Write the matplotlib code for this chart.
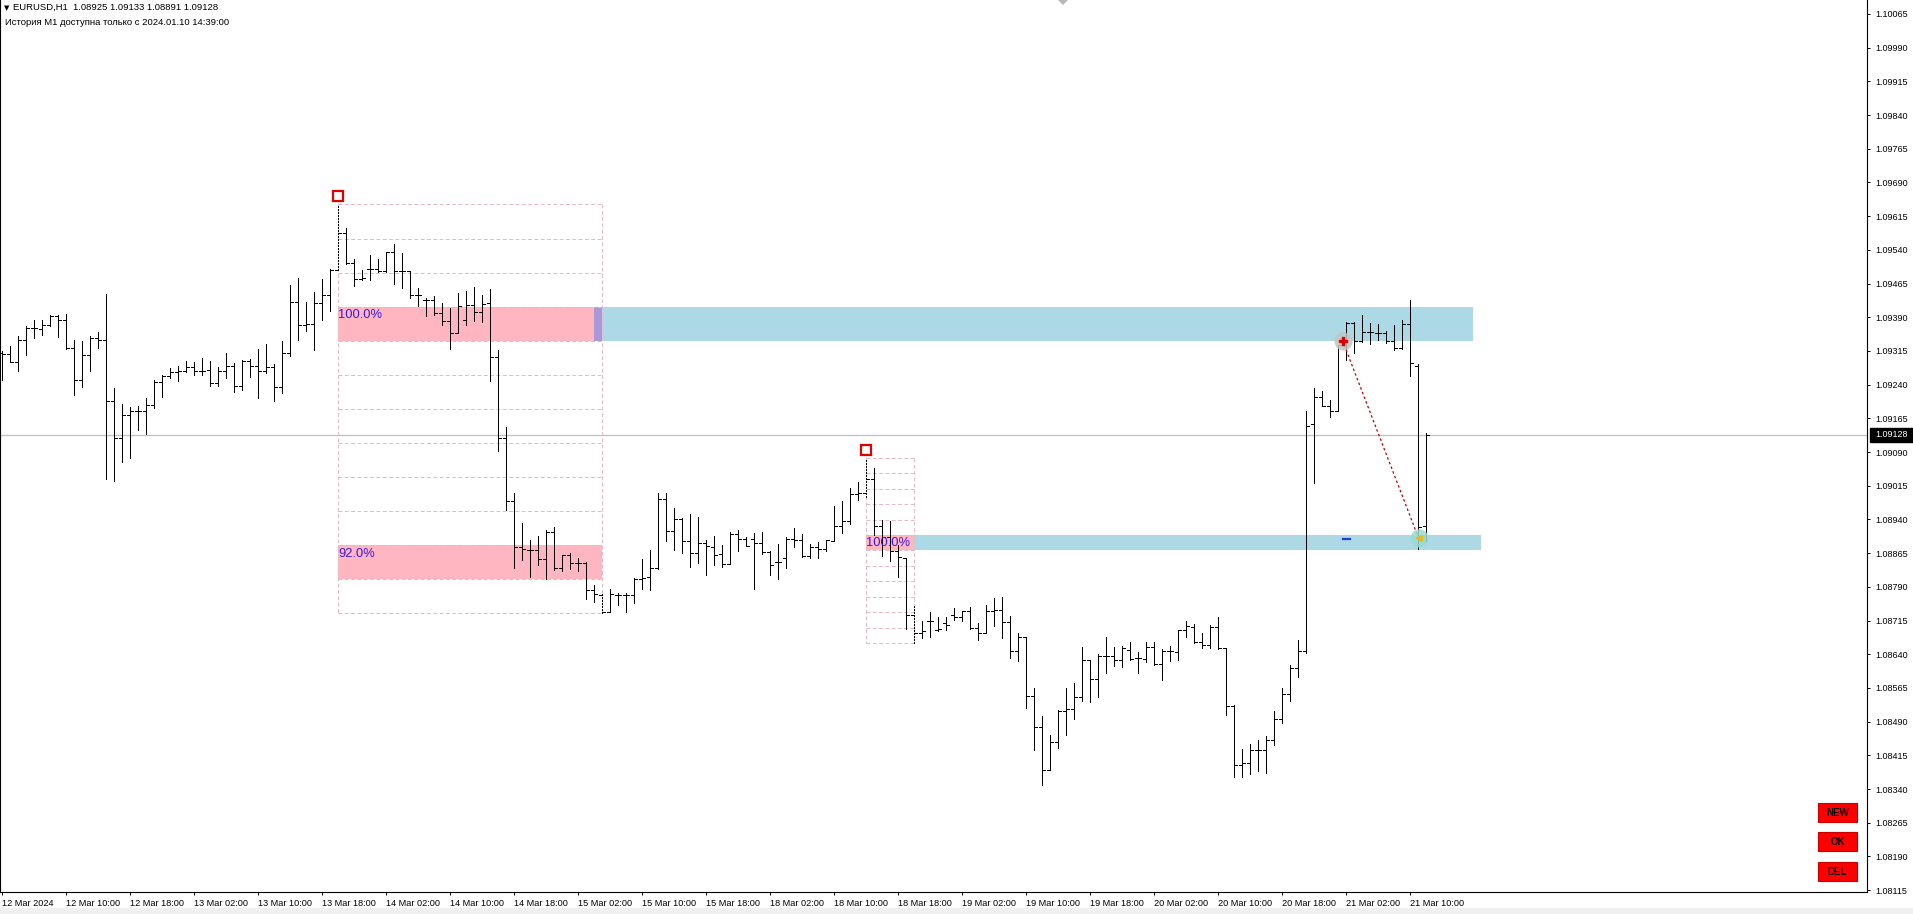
import matplotlib
matplotlib.use('Agg')
import matplotlib.pyplot as plt
from matplotlib import font_manager as fm
from matplotlib.patches import Rectangle, Polygon
from matplotlib.transforms import blended_transform_factory
import numpy as np

names = {f.name for f in fm.fontManager.ttflist}
UI = 'Liberation Sans' if 'Liberation Sans' in names else 'DejaVu Sans'
plt.rcParams['font.family'] = [UI, 'DejaVu Sans']

# ---------------- data (EURUSD H1, bars from 12 Mar 02:00) ----------------
open_ = [1.09311,1.09309,1.09290,1.09340,1.09366,1.09364,1.09372,1.09392,1.09385,1.09322,
         1.09251,1.09307,1.09344,1.09340,1.09204,1.09121,1.09173,1.09181,1.09181,1.09195,
         1.09245,1.09260,1.09268,1.09271,1.09279,1.09271,1.09272,1.09244,1.09270,1.09282,
         1.09238,1.09292,1.09282,1.09270,1.09280,1.09235,1.09311,1.09425,1.09372,1.09375,
         1.09422,1.09439,1.09495,1.09577,1.09511,1.09476,1.09498,1.09498,1.09492,1.09535,
         1.09493,1.09493,1.09440,1.09428,1.09428,1.09400,1.09381,1.09355,1.09385,1.09418,
         1.09401,1.09422,1.09302,1.09121,1.08980,1.08878,1.08872,1.08872,1.08853,1.08913,
         1.08832,1.08860,1.08844,1.08844,1.08782,1.08772,1.08735,1.08772,1.08772,1.08772,
         1.08808,1.08812,1.08832,1.08985,1.08915,1.08941,1.08891,1.08865,1.08887,1.08879,
         1.08863,1.08841,1.08907,1.08897,1.08896,1.08887,1.08867,1.08845,1.08854,1.08896,
         1.08895,1.08858,1.08878,1.08874,1.08893,1.08925,1.08936,1.08997,1.08999,1.09029,
         1.08925,1.08902,1.08869,1.08854,1.08728,1.08688,1.08713,1.08694,1.08709,1.08728,
         1.08723,1.08737,1.08698,1.08687,1.08737,1.08739,1.08711,1.08647,1.08678,1.08547,
         1.08479,1.08382,1.08444,1.08514,1.08518,1.08544,1.08627,1.08586,1.08637,1.08636,
         1.08627,1.08649,1.08631,1.08629,1.08657,1.08618,1.08647,1.08646,1.08694,1.08701,
         1.08668,1.08661,1.08701,1.08653,1.08525,1.08393,1.08399,1.08427,1.08427,1.08449,
         1.08497,1.08551,1.08609,1.08647,1.09152,1.09213,1.09193,1.09182,1.09339,1.09377,
         1.09337,1.09357,1.09355,1.09354,1.09337,1.09322,1.09376,1.09282,1.08925]
high = [1.09314,1.09326,1.09348,1.09370,1.09385,1.09385,1.09396,1.09396,1.09398,1.09339,
        1.09338,1.09348,1.09358,1.09441,1.09233,1.09198,1.09190,1.09192,1.09210,1.09251,
        1.09262,1.09277,1.09282,1.09292,1.09290,1.09300,1.09293,1.09280,1.09311,1.09288,
        1.09294,1.09296,1.09320,1.09331,1.09285,1.09338,1.09461,1.09478,1.09424,1.09447,
        1.09476,1.09498,1.09641,1.09589,1.09520,1.09496,1.09528,1.09519,1.09535,1.09552,
        1.09532,1.09493,1.09456,1.09433,1.09437,1.09422,1.09411,1.09443,1.09448,1.09458,
        1.09439,1.09453,1.09317,1.09146,1.09000,1.08932,1.08895,1.08904,1.08916,1.08924,
        1.08861,1.08865,1.08855,1.08846,1.08794,1.08777,1.08785,1.08776,1.08777,1.08809,
        1.08852,1.08872,1.08999,1.08999,1.08965,1.08943,1.08952,1.08945,1.08895,1.08904,
        1.08884,1.08913,1.08917,1.08902,1.08910,1.08913,1.08869,1.08886,1.08902,1.08921,
        1.08908,1.08886,1.08889,1.08895,1.08969,1.08980,1.09010,1.09023,1.09073,1.09055,
        1.08939,1.08936,1.08884,1.08854,1.08750,1.08713,1.08735,1.08723,1.08723,1.08743,
        1.08737,1.08746,1.08709,1.08750,1.08765,1.08767,1.08726,1.08687,1.08679,1.08564,
        1.08503,1.08460,1.08517,1.08564,1.08575,1.08657,1.08627,1.08640,1.08678,1.08657,
        1.08658,1.08668,1.08646,1.08668,1.08668,1.08651,1.08658,1.08695,1.08713,1.08707,
        1.08687,1.08705,1.08722,1.08655,1.08527,1.08430,1.08440,1.08450,1.08458,1.08514,
        1.08566,1.08616,1.08672,1.09181,1.09233,1.09227,1.09205,1.09329,1.09379,1.09379,
        1.09394,1.09377,1.09376,1.09359,1.09372,1.09385,1.09429,1.09285,1.09133]
low = [1.09251,1.09290,1.09270,1.09305,1.09344,1.09351,1.09370,1.09346,1.09320,1.09216,
       1.09235,1.09270,1.09322,1.09030,1.09025,1.09067,1.09076,1.09138,1.09130,1.09187,
       1.09212,1.09255,1.09249,1.09268,1.09262,1.09261,1.09236,1.09236,1.09254,1.09224,
       1.09229,1.09256,1.09210,1.09266,1.09203,1.09221,1.09303,1.09339,1.09359,1.09317,
       1.09384,1.09404,1.09495,1.09508,1.09459,1.09473,1.09473,1.09490,1.09490,1.09463,
       1.09454,1.09432,1.09415,1.09392,1.09396,1.09372,1.09320,1.09354,1.09372,1.09381,
       1.09379,1.09248,1.09092,1.08962,1.08832,1.08849,1.08813,1.08839,1.08808,1.08828,
       1.08826,1.08829,1.08826,1.08762,1.08757,1.08731,1.08733,1.08750,1.08735,1.08755,
       1.08785,1.08782,1.08829,1.08893,1.08871,1.08866,1.08835,1.08844,1.08816,1.08839,
       1.08835,1.08841,1.08870,1.08880,1.08785,1.08864,1.08817,1.08807,1.08832,1.08879,
       1.08856,1.08854,1.08854,1.08869,1.08891,1.08911,1.08931,1.08984,1.08991,1.08906,
       1.08858,1.08847,1.08813,1.08696,1.08665,1.08676,1.08678,1.08691,1.08694,1.08717,
       1.08715,1.08696,1.08672,1.08687,1.08702,1.08676,1.08631,1.08624,1.08520,1.08427,
       1.08349,1.08382,1.08431,1.08460,1.08497,1.08537,1.08534,1.08545,1.08599,1.08614,
       1.08612,1.08627,1.08599,1.08623,1.08616,1.08583,1.08625,1.08627,1.08679,1.08664,
       1.08655,1.08653,1.08651,1.08505,1.08366,1.08366,1.08373,1.08381,1.08375,1.08438,
       1.08487,1.08537,1.08589,1.08642,1.09021,1.09192,1.09168,1.09181,1.09294,1.09311,
       1.09334,1.09331,1.09339,1.09333,1.09318,1.09320,1.09259,1.08874,1.08891]
close = [1.09309,1.09291,1.09340,1.09366,1.09366,1.09373,1.09392,1.09384,1.09321,1.09251,
         1.09307,1.09344,1.09339,1.09204,1.09121,1.09173,1.09181,1.09181,1.09195,1.09245,
         1.09260,1.09268,1.09271,1.09279,1.09271,1.09271,1.09244,1.09270,1.09282,1.09238,
         1.09292,1.09282,1.09270,1.09280,1.09235,1.09311,1.09425,1.09372,1.09375,1.09422,
         1.09439,1.09495,1.09577,1.09511,1.09476,1.09477,1.09498,1.09492,1.09535,1.09493,
         1.09493,1.09440,1.09440,1.09428,1.09400,1.09381,1.09355,1.09416,1.09418,1.09401,
         1.09419,1.09302,1.09121,1.08980,1.08878,1.08875,1.08871,1.08853,1.08913,1.08832,
         1.08860,1.08844,1.08844,1.08782,1.08774,1.08735,1.08774,1.08772,1.08772,1.08808,
         1.08809,1.08832,1.08985,1.08915,1.08941,1.08891,1.08865,1.08887,1.08880,1.08861,
         1.08841,1.08907,1.08897,1.08881,1.08887,1.08867,1.08838,1.08845,1.08896,1.08895,
         1.08858,1.08878,1.08874,1.08895,1.08925,1.08936,1.08997,1.08999,1.09029,1.08925,
         1.08902,1.08869,1.08856,1.08728,1.08688,1.08691,1.08713,1.08696,1.08705,1.08724,
         1.08737,1.08698,1.08687,1.08737,1.08739,1.08711,1.08647,1.08678,1.08547,1.08479,
         1.08382,1.08444,1.08514,1.08518,1.08544,1.08627,1.08586,1.08637,1.08637,1.08627,
         1.08653,1.08629,1.08631,1.08657,1.08618,1.08647,1.08647,1.08694,1.08703,1.08668,
         1.08661,1.08701,1.08653,1.08525,1.08393,1.08399,1.08427,1.08427,1.08449,1.08497,
         1.08551,1.08609,1.08647,1.09149,1.09213,1.09193,1.09181,1.09328,1.09377,1.09337,
         1.09357,1.09357,1.09354,1.09337,1.09322,1.09376,1.09288,1.08924,1.09128]

x_tick_bars = [0, 8, 16, 24, 32, 40, 48, 56, 64, 72, 80, 88, 96, 104, 112, 120,
               128, 136, 144, 152, 160, 168, 176]
x_tick_labels = ['12 Mar 2024', '12 Mar 10:00', '12 Mar 18:00', '13 Mar 02:00', '13 Mar 10:00',
                 '13 Mar 18:00', '14 Mar 02:00', '14 Mar 10:00', '14 Mar 18:00', '15 Mar 02:00',
                 '15 Mar 10:00', '15 Mar 18:00', '18 Mar 02:00', '18 Mar 10:00', '18 Mar 18:00',
                 '19 Mar 02:00', '19 Mar 10:00', '19 Mar 18:00', '20 Mar 02:00', '20 Mar 10:00',
                 '20 Mar 18:00', '21 Mar 02:00', '21 Mar 10:00']
y_ticks = [1.10065, 1.09990, 1.09915, 1.09840, 1.09765, 1.09690, 1.09615, 1.09540, 1.09465,
           1.09390, 1.09315, 1.09240, 1.09165, 1.09090, 1.09015, 1.08940, 1.08865, 1.08790,
           1.08715, 1.08640, 1.08565, 1.08490, 1.08415, 1.08340, 1.08265, 1.08190, 1.08115]

# Fibonacci boxes: anchor bars, anchor prices, highlighted division bands and labels
fib_bars = [(42, 75), (108, 114)]
fib_prices = [(1.09641, 1.08731), (1.09077, 1.08665)]
fib_bands = [[(3, '100.0%'), (10, '92.0%')], [(5, '100.0%')]]
fib_divisions = 12
zone_end_bar = [183.9, 184.9]
marker_prices = [1.09660, 1.09095]
trade_bars = [167.6, 177.1]
trade_prices = [1.09338, 1.08899]
current_price = close[-1]

# ---------------- figure ----------------
W, H = 1913, 914
fig = plt.figure(figsize=(W / 100, H / 100), dpi=100)
fig.patch.set_facecolor('white')
ax = fig.add_axes([0, 22 / H, 1867 / W, 892 / H])
ax.set_xlim(-0.21, 233.16)
ax.set_ylim(1.08111, 1.10096)

x = np.arange(len(open_))
o = np.array(open_); hi = np.array(high); lo = np.array(low); c = np.array(close)
pivot = {42, 75, 108, 114}
solid = np.array([i for i in x if i not in pivot])
piv = np.array(sorted(pivot))

PINK = '#FFB6C1'
BLUE = '#ADD8E6'
DASH = '#E8B9C3'
TXT = '#3A1AD8'
LW = 0.7

# Fib boxes + zones
for k, ((b0, b1), (p0, p1)) in enumerate(zip(fib_bars, fib_prices)):
    d = (p0 - p1) / fib_divisions
    for idx, lab in fib_bands[k]:
        top = p0 - idx * d
        bot = top - d
        ax.add_patch(Rectangle((b0, bot), b1 - b0, d, facecolor=PINK, edgecolor='none', zorder=1))
        ytxt = top - min(0.00019, d / 2)
        ax.text(b0 + 0.05, ytxt, lab, color=TXT, fontsize=9.3, ha='left', va='center', zorder=6)
        if idx == fib_bands[k][0][0]:
            ax.add_patch(Rectangle((b1, bot), zone_end_bar[k] - b1, d, facecolor=BLUE,
                                   edgecolor='none', zorder=1))
    for j in range(fib_divisions + 1):
        lev = p0 - j * d
        ax.plot([b0, b1], [lev, lev], color=DASH, lw=LW, ls=(0, (4, 2.5)), zorder=2)
    ax.plot([b0, b0], [p0, p1], color=DASH, lw=LW, ls=(0, (4, 2.5)), zorder=2)
    ax.plot([b1, b1], [p0, p1], color=DASH, lw=LW, ls=(0, (4, 2.5)), zorder=2)

# purple marker at right end of first 100% band
b0, b1 = fib_bars[0]
p0, p1 = fib_prices[0]
d0 = (p0 - p1) / fib_divisions
ax.add_patch(Rectangle((b1 - 1, p0 - 4 * d0), 1, d0, facecolor='#AB98D8', edgecolor='none', zorder=1.5))

# current price line
ax.axhline(current_price, color='#C0C0C0', lw=0.9, zorder=1.6)

# OHLC bars (1 px lines)
ax.vlines(x[solid], lo[solid], hi[solid], colors='black', lw=LW, antialiased=False, zorder=4)
ax.vlines(x[piv], lo[piv], hi[piv], colors='black', lw=LW, linestyles=(0, (2, 2)),
          antialiased=False, zorder=4)
ax.hlines(o, x - 0.375, x, colors='black', lw=LW, antialiased=False, zorder=4)
ax.hlines(c, x, x + 0.375, colors='black', lw=LW, antialiased=False, zorder=4)

# red square markers at fib anchors
ax.plot([fib_bars[0][0], fib_bars[1][0]], marker_prices, ls='none', marker='s', ms=7.5,
        mfc='white', mec='#E00000', mew=1.6, zorder=7)

# trade line and markers
ax.plot(trade_bars, trade_prices, color='#C00000', lw=0.9, ls=(0, (2, 2)), zorder=5)
ax.plot(trade_bars[0], trade_prices[0], 'o', ms=13, mfc='#C4C4C4', mec='none', alpha=0.85, zorder=5.5)
ax.plot(trade_bars[1], trade_prices[1], 'o', ms=13, mfc='#9ADCD2', mec='none', alpha=0.85, zorder=5.5)
ax.plot(trade_bars[0], trade_prices[0], marker='P', ms=5.5, color='#E00000', zorder=6)
ax.plot(trade_bars[1], trade_prices[1], marker='<', ms=5, color='#E8B820', zorder=6)
ax.plot([trade_bars[0], trade_bars[0] + 0.9], [trade_prices[1] - 0.00002] * 2,
        color='#1F3FD0', lw=1.6, zorder=6)

# axes styling
ax.spines['top'].set_visible(False)
for s in ['right', 'bottom', 'left']:
    ax.spines[s].set_color('black')
    ax.spines[s].set_linewidth(0.8)
ax.yaxis.tick_right()
ax.set_yticks(y_ticks)
ax.set_yticklabels([f'{v:.5f}' for v in y_ticks])
ax.tick_params(axis='y', direction='out', length=2.5, width=0.7, pad=3.6, labelsize=6.5,
               colors='black')
ax.set_xticks(x_tick_bars)
ax.set_xticklabels(x_tick_labels)
ax.tick_params(axis='x', direction='out', length=2.5, width=0.7, pad=2.5, labelsize=6.6)
for lbl in ax.get_xticklabels():
    lbl.set_ha('left')

# current price label box on axis
bt = blended_transform_factory(ax.transAxes, ax.transData)
ax.add_patch(Rectangle((1.0015, current_price - 0.000155), 0.0245, 0.00031, transform=bt,
                       facecolor='black', edgecolor='black', clip_on=False, zorder=8))
ax.text(1 + 8 / 1867, current_price, f'{current_price:.5f}', transform=bt, color='white',
        fontsize=6.5, ha='left', va='center', zorder=9, clip_on=False)

# header text
fig.text(4 / W, 1 - 8 / H, '▼', fontsize=5, family='DejaVu Sans', va='center', ha='left')
fig.text(13 / W, 1 - 7.5 / H,
         f'EURUSD,H1  {open_[-1]:.5f} {high[-1]:.5f} {low[-1]:.5f} {close[-1]:.5f}',
         fontsize=6.8, va='center', ha='left')
fig.text(5 / W, 1 - 22.5 / H, 'История M1 доступна только с 2024.01.10 14:39:00',
         fontsize=6.8, va='center', ha='left')

# chart shift marker
fig.patches.append(Polygon([(1058 / W, 1), (1068 / W, 1), (1063 / W, 1 - 5 / H)], closed=True,
                           transform=fig.transFigure, facecolor='#B8B8B8', edgecolor='none'))
# bottom status strip
fig.patches.append(Rectangle((0, 0), 1, 6 / H, transform=fig.transFigure,
                             facecolor='#F0F0F0', edgecolor='none'))

# buttons
for lab, ytop in [('NEW', 803), ('OK', 832), ('DEL', 862)]:
    fig.patches.append(Rectangle((1818 / W, 1 - (ytop + 19) / H), 39 / W, 19 / H,
                                 transform=fig.transFigure, facecolor='#FF0000',
                                 edgecolor='#C80000', lw=0.8))
    fig.text((1818 + 19.5) / W, 1 - (ytop + 10) / H, lab, fontsize=7, fontweight='bold',
             ha='center', va='center', color='black')

fig.savefig('out.png', dpi=100)
